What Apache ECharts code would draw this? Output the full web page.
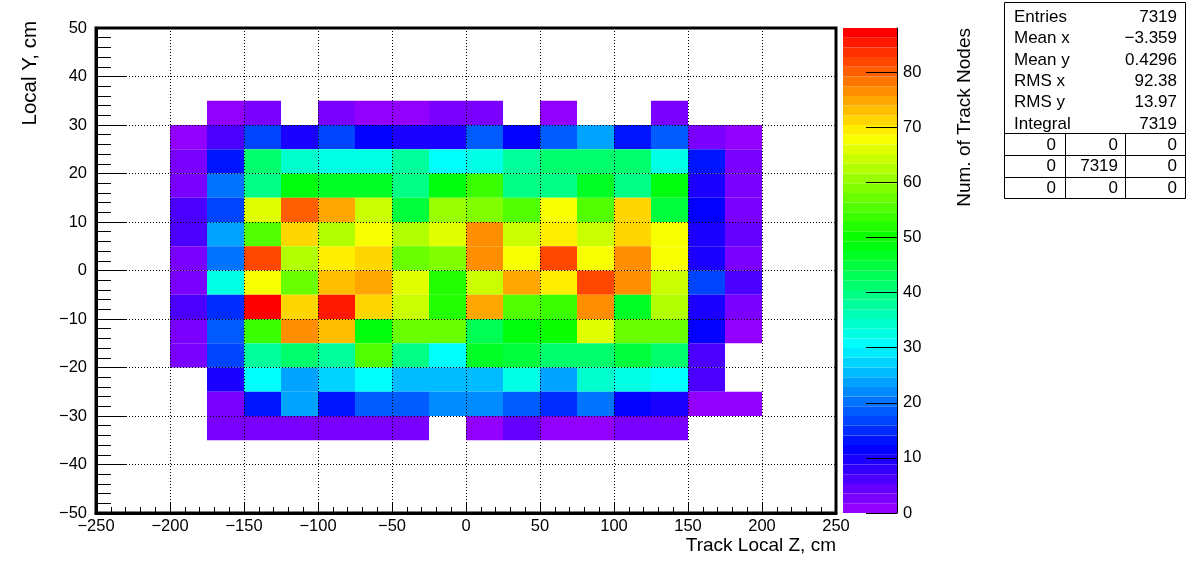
<!DOCTYPE html>
<html><head><meta charset="utf-8">
<script src="https://cdn.jsdelivr.net/npm/echarts@6/dist/echarts.min.js"></script>
<style>html,body{margin:0;padding:0;background:#fff}#c{width:1196px;height:572px}</style>
</head><body><div id="c"></div>
<script>
// ---- data ----
const xBinLow = [-200,-175,-150,-125,-100,-75,-50,-25,0,25,50,75,100,125,150,175];
const yBinLow = [30,25,20,15,10,5,0,-5,-10,-15,-20,-25,-30,-35];
const binWidthX = 25;
const binWidthY = 5;
const row_y30  = [0,1,3,0,3,1,1,3,3,0,1,0,0,3,0,0];
const row_y25  = [1,7,17,10,17,12,10,10,18,12,18,24,13,18,3,1];
const row_y20  = [3,14,41,34,32,33,37,30,33,37,41,41,42,32,14,3];
const row_y15  = [3,20,40,48,47,47,39,48,54,40,39,46,40,49,10,3];
const row_y10  = [7,16,66,80,75,64,44,61,59,55,68,55,71,44,12,3];
const row_y5   = [7,24,55,71,62,68,62,66,76,64,69,64,72,68,10,5];
const row_y0   = [3,21,82,62,69,71,57,59,76,68,82,68,77,68,10,3];
const row_ym5  = [3,33,68,58,73,75,66,52,64,75,69,82,77,64,16,6];
const row_ym10 = [6,15,88,71,85,71,64,52,75,55,54,77,46,62,10,3];
const row_ym15 = [3,19,53,77,73,48,57,57,43,49,50,66,57,57,12,1];
const row_ym20 = [3,16,38,42,37,55,40,30,47,44,41,42,44,42,6,0];
const row_ym25 = [0,9,30,24,27,30,25,25,25,32,24,34,33,30,6,0];
const row_ym30 = [0,2,13,24,13,19,19,22,22,19,15,21,12,10,1,1];
const row_ym35 = [0,3,3,3,3,3,3,0,1,5,1,1,3,3,0,0];
const counts = [row_y30,row_y25,row_y20,row_y15,row_y10,row_y5,row_y0,row_ym5,row_ym10,row_ym15,row_ym20,row_ym25,row_ym30,row_ym35];
const colorbarTicks = [0,10,20,30,40,50,60,70,80];
const statsLabels = ['Entries','Mean x','Mean y','RMS x','RMS y','Integral'];
const statsValues = ['7319','\u22123.359','0.4296','92.38','13.97','7319'];
const overflowTable = [['0','0','0'],['0','7319','0'],['0','0','0']];
const xTitle = 'Track Local Z, cm';
const yTitle = 'Local Y, cm';
const zTitle = 'Num. of Track Nodes';

// ---- style ----
const FONT = '"Liberation Sans", Arial, Helvetica, sans-serif';
const nColors = 50;
function hueColor(h){
  const f = n => { const k = (n + h/30) % 12; return Math.round(255*(0.5 - 0.5*Math.max(-1, Math.min(k-3, 9-k, 1)))); };
  return 'rgb(' + f(0) + ',' + f(8) + ',' + f(4) + ')';
}
const palette = [];
for (let k = 0; k < nColors; k++) palette.push(hueColor(280 - (k+1)*280/nColors));
const zMax = Math.max.apply(null, counts.map(r => Math.max.apply(null, r)));
function colorFor(v){ return palette[Math.min(nColors-1, Math.floor(v/zMax*nColors))]; }
const fmt = v => String(v).replace('-', '\u2212');

const cellData = [];
counts.forEach((row, r) => row.forEach((v, c) => { if (v > 0) cellData.push([xBinLow[c], yBinLow[r], v]); }));
const bandData = palette.map((c, k) => [k]);

const graphic = [];
// stats box
const bx = 1004.5, by = 2.5, bw = 181, bh = 196, rh = bh/9;
const SF = '17px ' + FONT;
graphic.push({type:'rect', shape:{x:bx, y:by, width:bw, height:bh}, style:{fill:'#fff', stroke:'#000', lineWidth:1}, z:10});
for (let i = 6; i < 9; i++) graphic.push({type:'line', shape:{x1:bx, y1:Math.round(by+i*rh)+0.5, x2:bx+bw, y2:Math.round(by+i*rh)+0.5}, style:{stroke:'#000', lineWidth:1}, z:11});
[1065.5, 1125.5].forEach(x => graphic.push({type:'line', shape:{x1:x, y1:Math.round(by+6*rh)+0.5, x2:x, y2:by+bh}, style:{stroke:'#000', lineWidth:1}, z:11}));
const rowCy = [17, 38.5, 60, 81, 102.5, 124, 145, 166.5, 188];
statsLabels.forEach((t, i) => {
  graphic.push({type:'text', x:1014, y:rowCy[i], z:12, style:{text:t, font:SF, fill:'#000', align:'left', verticalAlign:'middle'}});
  graphic.push({type:'text', x:1177, y:rowCy[i], z:12, style:{text:statsValues[i], font:SF, fill:'#000', align:'right', verticalAlign:'middle'}});
});
const colRight = [1056, 1118, 1177];
overflowTable.forEach((row, r) => row.forEach((t, c) => {
  graphic.push({type:'text', x:colRight[c], y:rowCy[6+r], z:12, style:{text:t, font:SF, fill:'#000', align:'right', verticalAlign:'middle'}});
}));
// titles
graphic.push({type:'text', x:836, y:546, style:{text:xTitle, font:'19px ' + FONT, fill:'#000', align:'right', verticalAlign:'middle'}});
graphic.push({type:'text', x:30, y:21, rotation:Math.PI/2, style:{text:yTitle, font:'20.5px ' + FONT, fill:'#000', align:'right', verticalAlign:'middle'}});
graphic.push({type:'text', x:965, y:28, rotation:Math.PI/2, style:{text:zTitle, font:'19px ' + FONT, fill:'#000', align:'right', verticalAlign:'middle'}});

const chart = echarts.init(document.getElementById('c'), null, {renderer:'canvas'});
chart.setOption({
  animation:false,
  backgroundColor:'#fff',
  textStyle:{fontFamily:FONT},
  grid:[
    {left:96, top:28, width:740, height:485, show:true, borderColor:'#000', borderWidth:3, backgroundColor:'transparent', z:6},
    {left:843, top:28, width:54, height:485, show:false}
  ],
  xAxis:[
    {gridIndex:0, type:'value', min:-250, max:250, interval:50, z:5,
     axisLine:{show:true, onZero:false, lineStyle:{color:'#000', width:3}},
     axisTick:{show:true, inside:true, length:11, lineStyle:{color:'#000', width:1}},
     minorTick:{show:true, splitNumber:5, length:6, lineStyle:{color:'#000', width:1}},
     splitLine:{show:true, lineStyle:{color:'#000', type:[1,2], width:1}},
     axisLabel:{color:'#000', fontSize:16.5, fontFamily:FONT, margin:5, formatter:fmt}},
    {gridIndex:1, type:'value', min:0, max:1, show:false}
  ],
  yAxis:[
    {gridIndex:0, type:'value', min:-50, max:50, interval:10, z:5,
     axisLine:{show:true, onZero:false, lineStyle:{color:'#000', width:3}},
     axisTick:{show:true, inside:true, length:30, lineStyle:{color:'#000', width:1}},
     minorTick:{show:true, splitNumber:5, length:15, lineStyle:{color:'#000', width:1}},
     splitLine:{show:true, lineStyle:{color:'#000', type:[1,2], width:1}},
     axisLabel:{color:'#000', fontSize:16.5, fontFamily:FONT, margin:9, formatter:fmt}},
    {gridIndex:1, type:'value', min:0, max:zMax, interval:10, position:'right', z:5,
     axisLine:{show:true, onZero:false, lineStyle:{color:'#000', width:1}},
     axisTick:{show:true, inside:true, length:31, customValues:colorbarTicks, lineStyle:{color:'#000', width:1}},
     splitLine:{show:false},
     axisLabel:{color:'#000', fontSize:16.5, fontFamily:FONT, margin:6, customValues:colorbarTicks}}
  ],
  series:[
    {type:'custom', xAxisIndex:0, yAxisIndex:0, z:1, data:cellData, encode:{x:0, y:1},
     renderItem:(params, api) => {
       const x0 = api.value(0), y0 = api.value(1), v = api.value(2);
       const p0 = api.coord([x0, y0 + binWidthY]);
       const p1 = api.coord([x0 + binWidthX, y0]);
       return {type:'rect', shape:{x:p0[0], y:p0[1], width:p1[0]-p0[0], height:p1[1]-p0[1]}, style:{fill:colorFor(v)}};
     }},
    {type:'custom', xAxisIndex:1, yAxisIndex:1, z:1, data:bandData, encode:{y:0},
     renderItem:(params, api) => {
       const k = api.value(0);
       const p0 = api.coord([0, (k+1)*zMax/nColors]);
       const p1 = api.coord([1, k*zMax/nColors]);
       return {type:'rect', shape:{x:p0[0], y:p0[1], width:p1[0]-p0[0], height:p1[1]-p0[1]}, style:{fill:palette[k]}};
     }}
  ],
  graphic:graphic
});
</script></body></html>
